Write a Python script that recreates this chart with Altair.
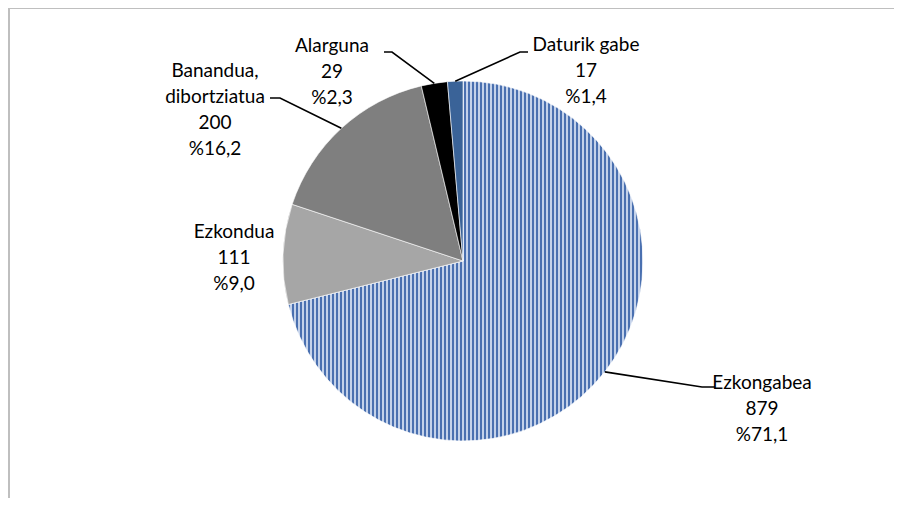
import math
import altair as alt
import pandas as pd

# ---- data ----
names = ["Ezkongabea", "Ezkondua", "Banandua, dibortziatua", "Alarguna", "Daturik gabe"]
values = [879, 111, 200, 29, 17]

# ---- styles / layout ----
slice_colors = ["#4d72b0", "#a6a6a6", "#7f7f7f", "#000000", "#3a6398"]
W, H = 886, 490
CX, CY, R = 455, 253, 180
FONT = "Lato"
FS = 19
LH = 26
# label block: centre x, centre y of first line (chart px)
label_x = [754, 226, 207, 324, 578]
label_y = [378, 227, 66, 41, 40]
# leader line bend + end points (chart px), None = no leader
leader_pts = [
    [(694, 379), (707, 379)],
    None,
    [(272, 90), (262, 90)],
    [(384, 44), (376, 44)],
    [(512, 44), (520, 44)],
]

total = sum(values)

def fmt_pct(v):
    return "%" + f"{v / total * 100:.1f}".replace(".", ",")

df = pd.DataFrame({
    "name": names,
    "value": values,
    "idx": list(range(len(values))),
    "col": slice_colors,
})

# label table
lab = pd.DataFrame({
    "label": [n.replace(", ", ",\n") + "\n" + str(v) + "\n" + fmt_pct(v) for n, v in zip(names, values)],
    "lx": label_x,
    "ly": [y - FS * 0.62 for y in label_y],
})

# leader lines: start at slice mid-angle on the rim
rows = []
cum = 0
for i, v in enumerate(values):
    mid = (cum + v / 2) / total * 2 * math.pi
    cum += v
    if leader_pts[i] is None:
        continue
    sx = CX + R * math.sin(mid)
    sy = CY - R * math.cos(mid)
    pts = [(sx, sy)] + leader_pts[i]
    for j, (x, y) in enumerate(pts):
        rows.append({"name": names[i], "seq": j, "px": x, "py": y})
lines = pd.DataFrame(rows)

# striped gradient for the first slice (vertical stripes, 4px period)
a0 = values[0] / total * 2 * math.pi
end_x = CX + R * math.sin(a0)
left = min(CX, end_x) if a0 > math.pi else CX
right = CX + R if a0 > math.pi / 2 else max(CX + R * math.sin(a0), CX)
bw = right - left
stripe = [("#4a70b0", 2.0), ("#c4d2ea", 1.2), ("#eef2f9", 0.8)]
stops = []
p = 0.0
while p < bw:
    for c, w in stripe:
        o1 = min(p / bw, 1)
        o2 = min((p + w) / bw, 1)
        stops.append({"offset": o1, "color": c})
        stops.append({"offset": o2, "color": c})
        p += w
grad = {"gradient": "linear", "x1": 0, "x2": 1, "y1": 0, "y2": 0, "stops": stops}

base_x = alt.X("px:Q", scale=None, axis=None)
base_y = alt.Y("py:Q", scale=None, axis=None)

pie = alt.Chart(df).mark_arc(radius=R, stroke="white", strokeWidth=0.6).encode(
    theta=alt.Theta("value:Q", stack=True),
    order=alt.Order("idx:Q"),
    fill=alt.condition(alt.datum.idx == 0, alt.value(grad), alt.Fill("col:N", scale=None, legend=None)),
    x=alt.value(CX),
    y=alt.value(CY),
)

leaders = alt.Chart(lines).mark_line(color="black", strokeWidth=1.6).encode(
    x=base_x, y=base_y, detail="name:N", order="seq:Q"
)

texts = alt.Chart(lab).mark_text(
    font=FONT, fontSize=FS, lineBreak="\n", lineHeight=LH, align="center", baseline="top", color="#000000"
).encode(
    x=alt.X("lx:Q", scale=None, axis=None),
    y=alt.Y("ly:Q", scale=None, axis=None),
    text="label:N",
)

border = pd.DataFrame({"px": [0, 1], "py": [0, 0], "px2": [W, 1], "py2": [0, H]})
frame = alt.Chart(border).mark_rule(color="#bfbfbf", strokeWidth=2).encode(
    x=base_x, y=base_y, x2="px2:Q", y2="py2:Q"
)

chart = alt.layer(frame, pie, leaders, texts).properties(
    width=W, height=H, padding=0, autosize=alt.AutoSizeParams(type="none")
).configure_view(stroke=None)

chart.save("out.html", embed_options={"renderer": "svg", "actions": False})
